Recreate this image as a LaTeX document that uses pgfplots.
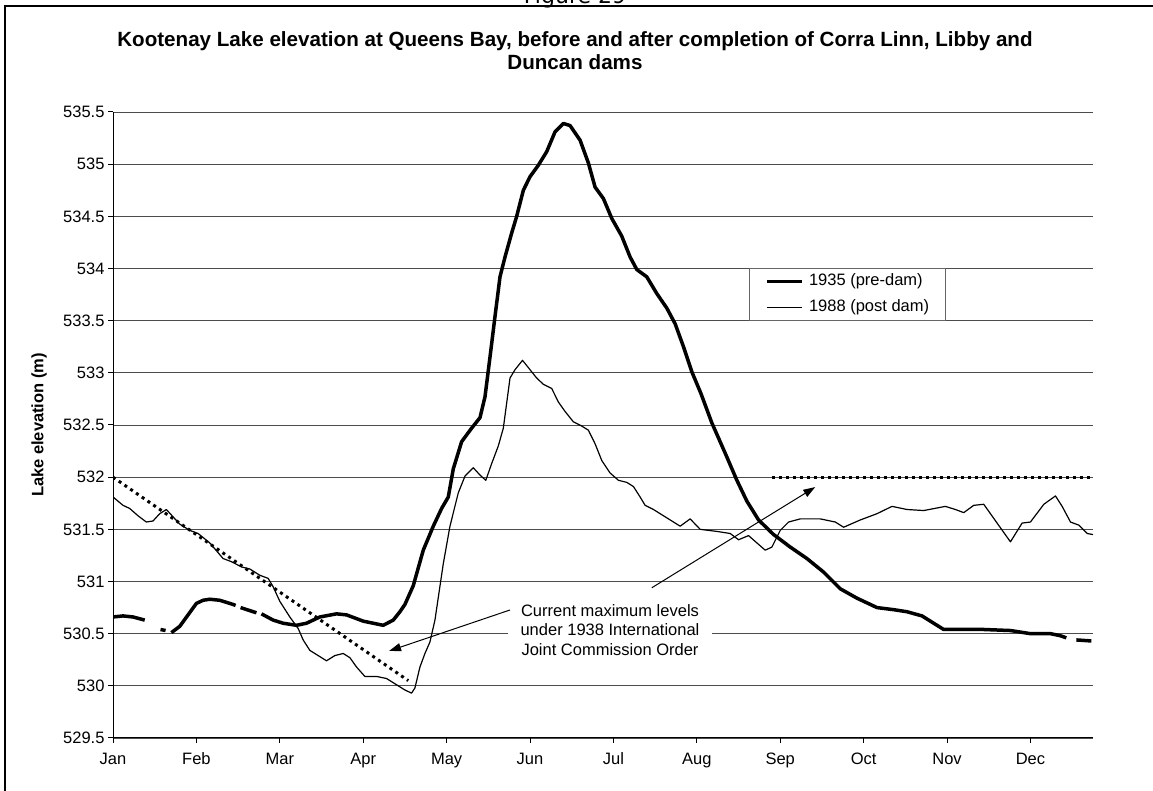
\documentclass[border=0pt]{standalone}
\usepackage{fontspec}
\setmainfont{Liberation Sans}
\newfontfamily\figfont{DejaVu Sans}
\usepackage{pgfplots}
\pgfplotsset{compat=1.18}
\usetikzlibrary{arrows.meta}
\begin{document}
\begin{tikzpicture}[x=1pt,y=1pt]
\useasboundingbox (0,0) rectangle (1153,791);
\clip (0,0) rectangle (1153,791);
\node[font=\figfont\fontsize{22}{26}\selectfont, anchor=base] at (575,787) {Figure 29};
\draw[line width=2pt] (5,-20) -- (5,785) -- (1180,785);
\begin{axis}[
  at={(113pt,53pt)}, anchor=south west,
  width=980pt, height=626pt, scale only axis,
  xmin=0, xmax=11.75, ymin=529.5, ymax=535.5,
  axis x line*=bottom, axis y line*=left,
  axis line style={-, black, line width=1pt},
  xtick={0,1,2,3,4,5,6,7,8,9,10,11},
  xticklabels={Jan,Feb,Mar,Apr,May,Jun,Jul,Aug,Sep,Oct,Nov,Dec},
  ytick={529.5,530,530.5,531,531.5,532,532.5,533,533.5,534,534.5,535,535.5},
  yticklabels={529.5,530,530.5,531,531.5,532,532.5,533,533.5,534,534.5,535,535.5},
  tick align=outside, major tick length=5pt,
  tick style={black, line width=1pt},
  ymajorgrids, grid style={black!70, line width=0.9pt},
  ticklabel style={font=\fontsize{16.5}{19.8}\selectfont},
  xticklabel style={text height=12pt, text depth=3.5pt, yshift=-6pt},
  ylabel={Lake elevation (m)},
  ylabel style={font=\bfseries\fontsize{16.5}{19.8}\selectfont, at={(axis description cs:-0.0755,0.5)}, anchor=center},
  title={Kootenay Lake elevation at Queens Bay, before and after completion of Corra Linn, Libby and\\Duncan dams},
  title style={font=\bfseries\fontsize{20.6}{23.5}\selectfont, align=center, at={(axis description cs:0.4714,1.0887)}, anchor=center},
  unbounded coords=jump,
  legend cell align=left,
  legend image code/.code={\draw[#1] (0pt,0pt) -- (35pt,0pt);},
  legend style={at={(rel axis cs:0.6493,0.7503)}, anchor=north west,
    draw=black!60, fill=white, inner xsep=16pt, inner ysep=2.2pt,
    row sep=3.6pt, column sep=5pt,
    font=\fontsize{16.5}{19.8}\selectfont,
    nodes={inner xsep=0pt, inner ysep=3pt, text height=12pt, text depth=4pt}},
]
\addplot[black, line width=3.5pt, line join=round] coordinates {
(0.00,530.66) (0.12,530.67) (0.24,530.66) (0.38,530.63) (0.40,nan)
(0.57,530.54) (0.63,530.53) (0.66,nan)
(0.70,530.51) (0.80,530.57) (0.90,530.68) (1.00,530.79) (1.08,530.82) (1.16,530.83)
(1.28,530.82) (1.44,530.78) (1.47,530.77) (1.50,nan)
(1.53,530.75) (1.72,530.70) (1.75,nan)
(1.78,530.69) (1.92,530.63) (2.04,530.60) (2.20,530.58) (2.32,530.60) (2.48,530.66)
(2.68,530.69) (2.80,530.68) (3.00,530.62) (3.24,530.58) (3.36,530.63) (3.44,530.71)
(3.50,530.78) (3.60,530.96) (3.72,531.30) (3.84,531.53) (3.94,531.70) (4.02,531.81)
(4.08,532.08) (4.18,532.34) (4.30,532.47) (4.40,532.57) (4.46,532.77) (4.52,533.15)
(4.58,533.54) (4.64,533.92) (4.70,534.11) (4.78,534.34) (4.84,534.50) (4.92,534.75)
(5.00,534.88) (5.10,534.99) (5.20,535.12) (5.30,535.31) (5.40,535.39) (5.48,535.37)
(5.60,535.23) (5.70,535.01) (5.78,534.78) (5.88,534.67) (5.98,534.48) (6.10,534.31)
(6.20,534.11) (6.28,533.99) (6.40,533.92) (6.52,533.76) (6.64,533.62) (6.74,533.47)
(6.84,533.25) (6.94,533.01) (7.05,532.80) (7.18,532.52) (7.34,532.23) (7.48,531.97)
(7.60,531.77) (7.74,531.59) (7.92,531.45) (8.12,531.33) (8.32,531.22) (8.52,531.09)
(8.72,530.93) (8.92,530.84) (9.16,530.75) (9.36,530.73) (9.52,530.71) (9.70,530.67)
(9.84,530.60) (9.96,530.54) (10.20,530.54) (10.44,530.54) (10.76,530.53) (11.00,530.50)
(11.24,530.50) (11.36,530.48) (11.43,530.46) (11.49,nan)
(11.55,530.44) (11.73,530.43)
};
\addlegendentry{1935 (pre-dam)}
\addplot[black, line width=1.2pt, line join=round] coordinates {
(0.00,531.81) (0.12,531.73) (0.20,531.70) (0.30,531.63) (0.40,531.57) (0.48,531.58)
(0.56,531.65) (0.64,531.69) (0.72,531.62) (0.80,531.55) (0.92,531.49) (1.02,531.46)
(1.16,531.37) (1.32,531.22) (1.42,531.19) (1.54,531.14) (1.64,531.12) (1.76,531.06)
(1.86,531.03) (1.92,530.95) (2.00,530.81) (2.12,530.66) (2.22,530.55) (2.28,530.44)
(2.36,530.34) (2.46,530.29) (2.56,530.24) (2.66,530.29) (2.76,530.31) (2.84,530.27)
(2.92,530.18) (3.02,530.09) (3.16,530.09) (3.28,530.07) (3.40,530.01) (3.50,529.96)
(3.58,529.93) (3.62,529.98) (3.68,530.18) (3.74,530.31) (3.80,530.42) (3.86,530.63)
(3.96,531.17) (4.04,531.53) (4.14,531.85) (4.22,532.01) (4.32,532.09) (4.40,532.02)
(4.47,531.97) (4.54,532.13) (4.62,532.30) (4.68,532.47) (4.72,532.71) (4.76,532.95)
(4.82,533.03) (4.91,533.12) (5.00,533.03) (5.08,532.95) (5.16,532.89) (5.26,532.85)
(5.34,532.72) (5.42,532.63) (5.52,532.53) (5.62,532.49) (5.70,532.45) (5.78,532.32)
(5.86,532.16) (5.96,532.04) (6.06,531.97) (6.16,531.95) (6.24,531.91) (6.32,531.81)
(6.38,531.73) (6.48,531.69) (6.64,531.61) (6.80,531.53) (6.92,531.60) (7.04,531.50)
(7.24,531.48) (7.40,531.46) (7.50,531.40) (7.62,531.44) (7.72,531.37) (7.82,531.30)
(7.90,531.33) (8.00,531.49) (8.10,531.57) (8.24,531.60) (8.48,531.60) (8.66,531.57)
(8.76,531.52) (8.96,531.59) (9.16,531.65) (9.34,531.72) (9.52,531.69) (9.72,531.68)
(9.98,531.72) (10.10,531.69) (10.20,531.66) (10.32,531.73) (10.44,531.74) (10.60,531.56)
(10.76,531.38) (10.90,531.56) (11.00,531.57) (11.16,531.74) (11.30,531.82) (11.38,531.72)
(11.48,531.57) (11.58,531.54) (11.68,531.46) (11.75,531.45)
};
\addlegendentry{1988 (post dam)}
\addplot[black, line width=3pt, dash pattern=on 3pt off 4pt, forget plot] coordinates {(0,532) (3.54,530.05)};
\addplot[black, line width=3pt, dash pattern=on 3pt off 4pt, forget plot] coordinates {(7.90,532) (11.75,532)};
\node[fill=white, align=center, font=\fontsize{16.5}{19.5}\selectfont, inner xsep=13pt, inner ysep=2pt] at (axis cs:5.959,530.535) {Current maximum levels\\under 1938 International\\Joint Commission Order};
\draw[black, line width=1pt, -{Triangle[length=12pt,width=8pt]}] (axis cs:4.76,530.727) -- (axis cs:3.31,530.334);
\draw[black, line width=1pt, -{Triangle[length=12pt,width=8pt]}] (axis cs:6.46,530.94) -- (axis cs:8.42,531.905);
\end{axis}
\end{tikzpicture}
\end{document}
